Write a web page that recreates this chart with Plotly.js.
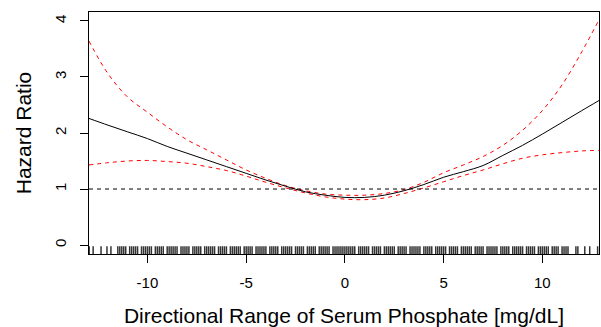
<!DOCTYPE html>
<html>
<head>
<meta charset="utf-8">
<script src="https://cdn.plot.ly/plotly-3.0.1.min.js"></script>
<style>html,body{margin:0;padding:0;background:#fff;}#chart{width:601px;height:327px;}</style>
</head>
<body>
<div id="chart"></div>
<script>
// Curve grid (Directional Range of Serum Phosphate, mg/dL)
var xGrid = [-12.96,-12,-11,-10,-9,-8,-7,-6,-5,-4,-3,-2,-1,0,1,2,3,4,5,6,7,8,9,10,11,12,12.87];
// Hazard ratio estimate
var hrEst = [2.26,2.14,2.02,1.90,1.76,1.64,1.52,1.40,1.28,1.16,1.05,0.95,0.89,0.85,0.85,0.89,0.97,1.08,1.21,1.31,1.42,1.60,1.78,1.98,2.19,2.40,2.58];
// Upper confidence limit
var hrUpper = [3.64,3.06,2.64,2.37,2.11,1.88,1.70,1.52,1.34,1.19,1.06,0.97,0.91,0.89,0.89,0.92,0.99,1.12,1.29,1.43,1.58,1.78,2.05,2.40,2.86,3.45,4.02];
// Lower confidence limit
var hrLower = [1.43,1.47,1.50,1.51,1.49,1.46,1.40,1.33,1.23,1.12,1.02,0.93,0.86,0.82,0.81,0.84,0.92,1.02,1.13,1.24,1.34,1.45,1.55,1.61,1.65,1.68,1.69];
// Reference line
var refLine = 1;
// Observed values (rug)
var rugValues = [-12.95,-12.75,-12.35,-12.05,-11.85,
-11.5,-11.4,-11.3,-11.2,-11.1,-10.9,-10.8,-10.7,-10.6,-10.5,-10.3,-10.2,-10.1,-10.0,-9.9,-9.8,-9.6,-9.5,-9.4,-9.3,-9.2,-9.0,-8.9,-8.8,-8.7,-8.6,-8.5,-8.3,-8.2,-8.1,-8.0,-7.9,-7.7,-7.6,-7.5,-7.4,-7.3,-7.1,-7.0,-6.9,-6.8,-6.7,-6.6,-6.4,-6.3,-6.2,-6.1,-6.0,-5.8,-5.7,-5.6,-5.5,-5.4,-5.3,-5.1,-5.0,-4.9,-4.8,-4.7,-4.5,-4.4,-4.3,-4.2,-4.1,-4.0,-3.8,-3.7,-3.6,-3.5,-3.4,-3.2,-3.1,-3.0,-2.9,-2.8,-2.7,-2.5,-2.4,-2.3,-2.2,-2.1,-1.9,-1.8,-1.7,-1.6,-1.5,-1.3,-1.2,-1.1,-1.0,-0.9,-0.8,-0.6,-0.5,-0.4,-0.3,-0.2,-0.1,0.0,0.1,0.2,0.3,0.4,0.5,0.7,0.8,0.9,1.0,1.1,1.2,1.4,1.5,1.6,1.7,1.8,2.0,2.1,2.2,2.3,2.4,2.5,2.7,2.8,2.9,3.0,3.1,3.3,3.4,3.5,3.6,3.7,3.8,4.0,4.1,4.2,4.3,4.4,4.6,4.7,4.8,4.9,5.0,5.1,5.3,5.4,5.5,5.6,5.7,5.9,6.0,6.1,6.2,6.3,6.4,6.6,6.7,6.8,6.9,7.0,7.2,7.3,7.4,7.5,7.6,7.7,7.9,8.0,8.1,8.2,8.3,8.5,8.6,8.7,8.8,8.9,9.0,9.2,9.3,9.4,9.5,9.6,9.8,9.9,10.0,10.1,10.2,10.3,10.5,10.6,10.7,10.8,11.0,11.1,11.2,
11.3,11.7,11.8,12.15,12.4,12.8];
var xTicks = [-10,-5,0,5,10];
var yTicks = [0,1,2,3,4];

var rugX = [], rugY = [];
rugValues.forEach(function(v){ rugX.push(v, v, null); rugY.push(0, 0.032, null); });

var FONT = 'Liberation Sans, Arial, sans-serif';

var traces = [
  {x: rugX, y: rugY, yaxis: 'y2', mode: 'lines', line: {color: 'rgba(0,0,0,0.8)', width: 1.5}, hoverinfo: 'skip', showlegend: false},
  {x: xGrid, y: hrUpper, mode: 'lines', line: {color: '#ff0000', width: 1, dash: '4px,4px', shape: 'spline'}, showlegend: false},
  {x: xGrid, y: hrLower, mode: 'lines', line: {color: '#ff0000', width: 1, dash: '4px,4px', shape: 'spline'}, showlegend: false},
  {x: xGrid, y: hrEst, mode: 'lines', line: {color: '#000000', width: 1, shape: 'spline'}, showlegend: false}
];

var layout = {
  width: 601, height: 327,
  margin: {l: 89, r: 2, t: 12, b: 73, pad: 0},
  paper_bgcolor: '#fff', plot_bgcolor: '#fff',
  font: {family: FONT, color: '#000', size: 15},
  xaxis: {
    range: [-12.96, 12.87], tickvals: xTicks, ticktext: xTicks.map(String),
    ticks: 'outside', ticklen: 8, tickcolor: '#000', tickwidth: 1,
    showgrid: false, zeroline: false, showline: true, mirror: true, linecolor: '#000', linewidth: 1,
    tickfont: {size: 15, family: FONT}, ticklabelstandoff: 7,
    title: {text: 'Directional Range of Serum Phosphate [mg/dL]', font: {size: 21, family: FONT}, standoff: 18}
  },
  yaxis: {
    range: [-0.16, 4.16], tickvals: yTicks, ticktext: yTicks.map(String),
    ticks: 'outside', ticklen: 8, tickcolor: '#000', tickwidth: 1, tickangle: -90,
    showgrid: false, zeroline: false, showline: true, mirror: true, linecolor: '#000', linewidth: 1,
    tickfont: {size: 15, family: FONT}, ticklabelstandoff: 8,
    title: {text: 'Hazard Ratio', font: {size: 21, family: FONT}, standoff: 14}
  },
  yaxis2: {range: [0, 1], overlaying: 'y', visible: false, fixedrange: true},
  shapes: [
    {type: 'line', xref: 'paper', x0: 0, x1: 1, yref: 'y', y0: refLine, y1: refLine,
     line: {color: '#000', width: 1, dash: '4px,4px'}}
  ]
};

Plotly.newPlot('chart', traces, layout, {displayModeBar: false, staticPlot: true});
</script>
</body>
</html>
